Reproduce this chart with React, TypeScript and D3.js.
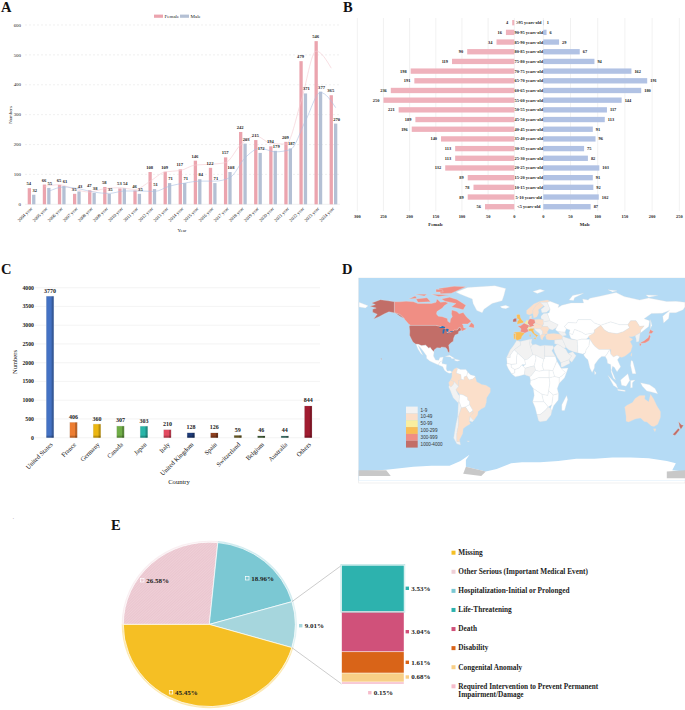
import * as d3 from "d3";

const serif = "'Liberation Serif', serif";
const sans = "'Liberation Sans', sans-serif";

// Panel A
const years = d3.range(2004, 2025).map((y) => `${y} year`);
const femaleByYear = [54, 66, 65, 35, 47, 58, 53, 46, 108, 109, 117, 146, 122, 157, 242, 215, 194, 209, 479, 546, 365];
const maleByYear = [32, 55, 61, 43, 38, 35, 54, 35, 51, 71, 71, 84, 71, 108, 203, 172, 179, 187, 371, 377, 270];
const femaleTrend = [60, 65.5, 50, 41, 52.5, 55.5, 49.5, 77, 108.5, 113, 131.5, 134, 139.5, 199.5, 228.5, 204.5, 201.5, 344, 512.5, 455.5];
const maleTrend = [43.5, 58, 52, 40.5, 36.5, 44.5, 44.5, 43, 61, 71, 77.5, 77.5, 89.5, 155.5, 187.5, 175.5, 183, 279, 374, 323.5];

// Panel B
const ageGroups = ["≥95 years-old", "90-95 years-old", "85-90 years-old", "80-85 years-old", "75-80 years-old", "70-75 years-old", "65-70 years-old", "60-65 years-old", "55-60 years-old", "50-55 years-old", "45-50 years-old", "40-45 years-old", "35-40 years-old", "30-35 years-old", "25-30 years-old", "20-25 years-old", "15-20 years-old", "10-15 years-old", "5-10 years-old", "<5 years-old"];
const femaleByAge = [4, 16, 34, 90, 119, 198, 191, 236, 250, 221, 189, 196, 140, 113, 113, 132, 89, 78, 89, 56];
const maleByAge = [1, 6, 29, 67, 94, 162, 191, 180, 144, 117, 113, 91, 96, 75, 82, 103, 91, 92, 102, 87];

// Panel C
const countries = ["United States", "France", "Germany", "Canada", "Japan", "Italy", "United Kingdom", "Spain", "Switzerland", "Belgium", "Australia", "Others"];
const countryCounts = [3770, 406, 360, 307, 303, 210, 128, 126, 59, 46, 44, 844];
const countryColors = ["#4472c4", "#ed7d31", "#ebb612", "#70ad47", "#28b5a8", "#e34a60", "#1f3d7a", "#8f4120", "#7a6a2e", "#4a6b3f", "#3f7a70", "#a01c30"];

// Panel D
const mapBands = ["1-9", "10-49", "50-99", "100-299", "300-999", "1000-4000"];
const bandColors = ["#f2f2f2", "#fbdfca", "#f9ee9f", "#f9bd56", "#f08e84", "#c26e68"];

type Shape = [number, number[][]]; // band index (-1 = no data), lon/lat ring

const shapes: Shape[] = [
  // North America
  [5, [[-124.7,48.4],[-123,49],[-95.2,49],[-89.5,48],[-84.5,46.5],[-82.5,45.3],[-82.5,42.5],[-79,43],[-76.5,44],[-75,45],[-71.5,45],[-69.5,47.3],[-67.8,47],[-67,44.8],[-70,43.7],[-70.5,41.7],[-74,40.6],[-75.5,38],[-76,35.2],[-78.5,33.8],[-81,32],[-80.2,27],[-80.5,25.2],[-81.8,26],[-82.8,28.5],[-84.5,29.8],[-89,30.2],[-90,29.2],[-94,29.6],[-97.2,27.5],[-97.2,25.9],[-99.5,27.5],[-101.5,29.8],[-103,29],[-106.5,31.7],[-111,31.3],[-114.8,32.5],[-117.1,32.5],[-120.5,34.5],[-122.5,37.5],[-124.2,40.4],[-124,44]]],
  [5, [[-141,69.6],[-141,60.2],[-135,58.5],[-130,55],[-134,56.5],[-140,59.7],[-147,60.8],[-152,59],[-158,56.5],[-164,54.6],[-160,58.7],[-165,60.5],[-165,63],[-161,64],[-168,65.6],[-162,67],[-166,68.5],[-156.5,71.3],[-148,70.4]]],
  [5, [[-156,20.3],[-155,19.7],[-155.7,19]]],
  [4, [[-141,69.6],[-135,69.5],[-128,70],[-120,69.5],[-115,68],[-108,68],[-100,68],[-95,69],[-94,72],[-90,69],[-85,69.5],[-81.5,68.5],[-86,66],[-88,64],[-94,61],[-94.5,58.8],[-92.5,57],[-88,56.5],[-82.5,55],[-82,52.5],[-79.5,51.3],[-79,54.5],[-77,56.5],[-78,59],[-77.5,62.4],[-72,61],[-69.5,59],[-65,60.2],[-61,56],[-56,52.5],[-60,50.2],[-66,50.2],[-65,49],[-64.5,47],[-61,46],[-66,44],[-67,44.8],[-67.8,47],[-69.5,47.3],[-71.5,45],[-75,45],[-76.5,44],[-79,43],[-82.5,42.5],[-82.5,45.3],[-84.5,46.5],[-89.5,48],[-95.2,49],[-123,49],[-125,50],[-130,54.5],[-130,55],[-135,58.5],[-141,60.2]]],
  [4, [[-80,73.5],[-72,71.5],[-62,66.5],[-65,62.5],[-72,64],[-78,65],[-73,68],[-85,70],[-89,72]]],
  [4, [[-117,72],[-105,73],[-101,69.5],[-115,69]]],
  [4, [[-90,76.5],[-78,77],[-62,82.5],[-75,83],[-92,81]]],
  [4, [[-125,72],[-118,74.5],[-116,72.5]]],
  [4, [[-100,76],[-80,75.5],[-92,74]]],
  [4, [[-118,76],[-105,76],[-108,74.5]]],
  [4, [[-95,80.5],[-88,80],[-87,78],[-95,78]]],
  [4, [[-59,47.7],[-53,46.8],[-53,49.5],[-56,51.5]]],
  [-1, [[-73,78],[-60,82],[-30,83.5],[-18,81],[-20,75],[-22,70.5],[-33,68],[-42,63],[-44,60],[-50,62],[-54,68],[-55,72],[-68,76]]],
  [-1, [[-117.1,32.5],[-114.8,32.5],[-111,31.3],[-106.5,31.7],[-103,29],[-101.5,29.8],[-99.5,27.5],[-97.2,25.9],[-97.8,22.3],[-95.5,18.8],[-92,18.6],[-90.7,21],[-87,21.5],[-88,18.2],[-91,17],[-92.2,14.6],[-96,15.8],[-102,18],[-105.5,20.5],[-105.5,22.5],[-109.3,26.7],[-112.7,30],[-114.7,31.5],[-112,27],[-109.5,23],[-112,24.8],[-115,28.5]]],
  [-1, [[-92.2,14.6],[-91,17],[-88,18.2],[-88.5,15.8],[-83.3,15],[-83.7,11],[-82.5,9.2],[-79.5,9.5],[-77.3,8.5],[-78.3,7.5],[-80.5,7.3],[-83,8.3],[-85.7,10],[-87.5,13]]],
  [-1, [[-85,22],[-80,23],[-74.2,20.2],[-77.5,19.9],[-79,21.5]]],
  [-1, [[-74.4,19.8],[-68.4,18.6],[-71.5,17.8],[-74.4,18.4]]],
  // South America
  [1, [[-77.3,8.5],[-75,11],[-72,12.2],[-71.3,11],[-72.5,7.5],[-67.5,6.2],[-67,2],[-70,1],[-70,-4.2],[-72,-2.5],[-75,0],[-79,1.5],[-77.5,4]]],
  [-1, [[-72,12],[-68,10.7],[-62,10.7],[-60,8.5],[-61,5],[-64,4],[-64,1.5],[-67,2],[-67.5,6.2],[-72.5,7.5],[-71.3,11]]],
  [-1, [[-60,8.5],[-57,6],[-52,5],[-51.7,4],[-54.5,2.3],[-58,1.5],[-60,3],[-61,5]]],
  [1, [[-79,1.5],[-75,0],[-75.5,-2],[-78.5,-4.8],[-80.3,-3.4],[-81,-1]]],
  [0, [[-81,-4.5],[-80.3,-3.4],[-78.5,-4.8],[-75.5,-2],[-75,0],[-72,-2.5],[-70,-4.2],[-73,-7],[-70.5,-11],[-69,-12.5],[-69.5,-17.3],[-71,-18],[-76,-14],[-79,-8]]],
  [1, [[-51.7,4],[-50,0],[-44.5,-2.5],[-40,-3],[-35,-5.5],[-35,-9],[-39,-14],[-39.5,-18],[-41,-22],[-45,-23.7],[-48.5,-26],[-49,-29],[-53.4,-33.7],[-57.6,-30.2],[-53.8,-27],[-54.6,-25.5],[-55,-24],[-58,-20],[-58,-17],[-60,-16],[-60.5,-13.5],[-65,-11.5],[-69,-11],[-73,-7],[-70,-4.2],[-70,1],[-67,2],[-64,1.5],[-64,4],[-61,5],[-60,3],[-58,1.5],[-54.5,2.3]]],
  [-1, [[-69,-11],[-65,-11.5],[-60.5,-13.5],[-60,-16],[-58,-17],[-58,-20],[-62.5,-22],[-67,-22.8],[-69.5,-17.3],[-69,-12.5]]],
  [-1, [[-58,-20],[-55,-24],[-54.6,-25.5],[-58,-27.3],[-62.5,-22]]],
  [0, [[-57.6,-30.2],[-53.4,-33.7],[-55,-35],[-58.3,-34]]],
  [0, [[-69.5,-17.3],[-67,-22.8],[-70,-30],[-70,-37],[-72,-45],[-72,-52],[-68.5,-52.3],[-68,-55],[-72,-54],[-75.5,-49],[-73,-37],[-71,-30],[-70.3,-18]]],
  [1, [[-67,-22.8],[-62.5,-22],[-58,-27.3],[-54.6,-25.5],[-53.8,-27],[-57.6,-30.2],[-58.3,-34],[-57,-36.5],[-62,-39],[-65,-41],[-65.5,-45],[-69,-50.5],[-68.5,-52.3],[-72,-52],[-72,-45],[-70,-37],[-70,-30]]],
  [0, [[-61,-51.5],[-58,-51.5],[-59,-52.3]]],
  // Africa
  [0, [[-17,21],[-13,27.7],[-9.7,31],[-5.9,35.8],[-2,35],[-1.2,32],[-8.7,27.7],[-13,23],[-13,21]]],
  [0, [[-2,35],[9,37],[8.5,33],[9.5,30],[12,23.5],[6,19.5],[3,19],[-8.7,27.7],[-1.2,32]]],
  [0, [[9,37],[11,37],[10.2,34],[11.5,32],[9.5,30],[8.5,33]]],
  [0, [[11.5,32],[15,32.5],[20,31],[25,31.6],[25,20],[24,19.5],[15,23],[12,23.5],[9.5,30]]],
  [0, [[25,31.6],[32,31.2],[34.3,31.2],[34.9,29.5],[33,27],[36.9,22],[25,22]]],
  [-1, [[-17,21],[-13,21],[-13,23],[-8.7,27.7],[-5,25],[-6,21],[-6,15.5],[-12,15],[-16.5,16]]],
  [-1, [[-5,25],[3,19],[4,15],[0,14.8],[-3,12],[-8,10.5],[-12,12.5],[-12,15],[-6,15.5],[-6,21]]],
  [-1, [[3,19],[6,19.5],[12,23.5],[15,23],[15.5,20],[13.5,13.7],[9,13],[3.5,11.7],[1,13.5],[4,15]]],
  [-1, [[15,23],[24,19.5],[22.5,14],[24,10],[19,9],[15,10],[13.5,13.7],[15.5,20]]],
  [-1, [[24,19.5],[25,20],[25,22],[36.9,22],[38.5,18],[36.5,14],[34,9.5],[30,10],[24,10],[22.5,14]]],
  [-1, [[-16.5,16],[-12,15],[-12,12.5],[-8,10.5],[-8,7.5],[-11.5,7],[-15,11],[-17,14.5]]],
  [-1, [[-8,10.5],[-3,12],[0,14.8],[1,13.5],[3.5,11.7],[2.7,6.3],[-3,5],[-7.5,4.4],[-11.5,7],[-8,7.5]]],
  [0, [[2.7,6.3],[3.5,11.7],[9,13],[13.5,13.7],[15,10],[10,5],[8.5,4.5],[5,5.5]]],
  [-1, [[8.5,4.5],[10,5],[15,10],[19,9],[24,10],[30,10],[30,3.5],[18,3.5],[14,2],[9.5,1]]],
  [-1, [[9.5,1],[14,2],[18,3.5],[30,3.5],[30.8,-1],[29.5,-8],[28.5,-12],[22,-11],[12.5,-6],[9,-2]]],
  [-1, [[36.5,14],[38.5,18],[43,12],[48,8],[44,5],[41,3.5],[36,4.5],[34,9.5]]],
  [-1, [[43,11.5],[51,12],[47,3.5],[41,-1.5],[41,3.5],[44,5],[48,8]]],
  [-1, [[30,3.5],[36,4.5],[41,3.5],[41,-1.5],[39,-6],[40.4,-10.5],[34.5,-11.5],[29.5,-8],[30.8,-1]]],
  [-1, [[30,10],[34,9.5],[36,4.5],[30,3.5]]],
  [-1, [[12.5,-6],[22,-11],[24,-17.5],[11.8,-17.5],[13.5,-12]]],
  [-1, [[22,-11],[28.5,-12],[29.5,-8],[34.5,-11.5],[33,-20],[29,-22],[25,-18],[24,-17.5]]],
  [-1, [[34.5,-11.5],[40.4,-10.5],[40,-16],[35,-21],[32.8,-26],[31.5,-23],[33,-20]]],
  [-1, [[11.8,-17.5],[24,-17.5],[25,-18],[29,-22],[25,-25.5],[20,-28.5],[16.5,-28.5],[14.5,-22.5]]],
  [0, [[16.5,-28.5],[20,-28.5],[25,-25.5],[29,-22],[31.5,-23],[32.8,-26],[32,-29],[27,-34],[20,-34.8],[18.3,-34]]],
  [-1, [[49.3,-12],[50.5,-15.5],[47,-25],[44,-25],[44,-20],[47,-15.5]]],
  // Europe
  [3, [[-9.3,43],[-1.8,43.4],[3.2,42.3],[0,39.5],[-0.7,37.7],[-2,36.7],[-5.5,36],[-7.3,37.2],[-7,41.8]]],
  [3, [[-9.3,42],[-7,41.8],[-7.3,37.2],[-9,37]]],
  [4, [[-1.8,43.4],[-1,46],[-4.7,48.4],[-1.5,48.7],[2.5,51],[8,49],[7.5,47.5],[6,46],[7.5,43.8],[3.2,42.3]]],
  [4, [[6,51],[7,53.5],[9,54.8],[14,54],[15,51],[12.5,50],[13.7,48.6],[10,47.5],[7.5,47.5],[8,49]]],
  [2, [[2.5,51],[4,52],[5,53.4],[7,53.5],[6,51],[8,49]]],
  [2, [[6,46],[7.5,47.5],[10,47.5],[10.3,46.5],[8,45.9]]],
  [3, [[7.5,43.8],[6.9,45.5],[8,45.9],[10.3,46.5],[13.7,46.5],[12.5,44.5],[14,42],[18.4,40],[16.5,39.5],[16,38],[15,40],[12,42],[10,44]]],
  [3, [[12.5,38],[15.5,38.2],[15,36.7]]],
  [3, [[8.3,41],[9.7,41],[9.5,39],[8.5,39]]],
  [3, [[-5.5,50],[1.4,51.2],[1.7,52.7],[0,53.5],[-2,56],[-2,57.6],[-3.2,58.6],[-6,58.3],[-5.5,55],[-3.2,54],[-5,52.5]]],
  [5, [[-10,52],[-6.2,52.2],[-6,55.2],[-8.5,55],[-10,53.8]]],
  [-1, [[-24,65.5],[-18,66.5],[-13.7,65],[-18,63.4],[-22.5,64]]],
  [1, [[5,59],[5,62],[13,67.5],[20,70],[28,71],[31,70],[28,69],[20,69],[15,66],[12,62],[12,59.5],[8,58]]],
  [1, [[12,59.5],[12,62],[15,66],[20,69],[24,66],[18,62.5],[18.5,60],[16.5,56.5],[13,55.4]]],
  [0, [[20,69],[28,69],[31,63],[27,60.4],[22,60],[21,63],[25,65.5],[24,66]]],
  [1, [[8.2,55],[8.5,57],[10.7,57.5],[10.5,55]]],
  [1, [[14,54],[19,54.4],[23.5,54],[24,50.5],[22.5,49],[19,49.5],[15,51]]],
  [0, [[21,55],[21,57],[24,59.4],[28,59.5],[31,53],[23.5,52],[23.5,54]]],
  [0, [[24,50.5],[23.5,52],[31,53],[40,49.5],[38,47],[33.5,45],[30,46],[28,48],[22.5,48]]],
  [1, [[12.5,50],[15,51],[19,49.5],[22.5,49],[22.5,48],[20,46],[16.5,46],[13.7,46.5],[10.3,46.5],[10,47.5],[13.7,48.6]]],
  [1, [[22.5,48],[28,48],[30,46],[28,43.5],[28,41.5],[22.5,41.3],[22.5,44],[20,46]]],
  [0, [[13.7,46.5],[16.5,46],[20,46],[22.5,44],[22.5,41.3],[20,40],[19.3,42],[15,44.5]]],
  [1, [[20,40],[22.5,41.3],[26,41],[23,38],[23,36.5],[21,37]]],
  [1, [[26,40],[28,41.5],[35,42],[42,41.2],[44.7,39.7],[44.5,37],[36,36.3],[30,36.3],[27,37]]],
  // Asia
  [-1, [[28,69],[31,70],[41,67],[40,64.5],[44,66.5],[54,68.5],[68,68.5],[67,72],[73,71],[75,72.5],[87,74.5],[104,77.5],[113,74],[130,71],[140,72.8],[160,69.7],[170,70],[180,69],[180,65],[178,62.5],[170,60],[163,60],[162,55],[156.5,51],[155.5,57],[163,62],[155,59.5],[143,59.3],[135,54.7],[141,53],[140,48],[132,43],[130.7,42.5],[131,45],[135,48.5],[130,48],[126,53],[120,53],[117,49.6],[108,49.5],[98,52],[87,49],[80,51],[76,54],[62,54],[60,51],[51,51.5],[47,48],[49,46],[47.5,43],[40,43.5],[37,45],[38,47],[40,49.5],[31,53],[28,59.5],[30,60],[31,63]]],
  [-1, [[-180,69],[-170,66],[-173,64],[-180,65]]],
  [-1, [[47,48],[51,51.5],[60,51],[62,54],[76,54],[80,51],[87,49],[80,45],[80,42.5],[70,41],[66,43],[58,45.5],[56,41],[52,42],[53,45],[49,46]]],
  [-1, [[52,42],[56,41],[58,45.5],[66,43],[70,41],[80,42.5],[74,39],[71,37],[66,37],[61,36],[54,37.5]]],
  [-1, [[87,49],[98,52],[108,49.5],[117,49.6],[119,47],[112,43.5],[105,41.7],[96,42.7],[91,45]]],
  [1, [[73.5,39.5],[80,42.5],[80,45],[87,49],[91,45],[96,42.7],[105,41.7],[112,43.5],[119,47],[117,49.6],[120,53],[126,53],[130,48],[135,48.5],[131,45],[130.7,42.5],[125,40],[121.5,39],[118,39],[122.5,37],[119.5,35],[122,31],[120,26],[114,22.3],[110,21],[108,21.6],[105,23],[101,21.5],[98,24],[98,28],[92,28],[85,28],[81,30.3],[78.5,32.5],[75,37]]],
  [0, [[125,40],[130.7,42.5],[129.5,37],[129,35],[126.5,34.5],[126,37.5]]],
  [4, [[131,34],[135,35.7],[137,37],[139.5,38.5],[140.5,41],[142,39.5],[140.8,36],[139,35],[136,33.7],[132,33.5]]],
  [4, [[140,42],[141.8,45.4],[145.3,43.5],[143,42]]],
  [4, [[130,33.5],[132,33],[131,31],[130,31.5]]],
  [1, [[120,23],[121.5,25.2],[121,22]]],
  [0, [[44.5,37],[44.7,39.7],[48,38.5],[54,37],[61,36],[61.5,31],[61.7,25.2],[57,26],[52,27.5],[48.5,30]]],
  [0, [[40,43.5],[47.5,43],[49,40.5],[44.7,39.7],[42,41.2]]],
  [0, [[36,36.3],[44.5,37],[48.5,30],[46.5,29],[42,31.5],[39,32.5],[36,33]]],
  [0, [[34.9,29.5],[39,32.5],[42,31.5],[46.5,29],[48.5,28],[51,24.5],[55,22.5],[52,19],[43,16.5],[39,21],[36,26]]],
  [0, [[51,24.5],[56,26],[59.8,22.5],[55,17],[52,19],[55,22.5]]],
  [0, [[43,16.5],[52,19],[53,16],[45,12.8],[43.2,12.8]]],
  [-1, [[61,36],[66,37],[71,37],[75,37],[74,31],[71,28],[70,25],[67,24],[61.7,25.2],[61.5,31]]],
  [-1, [[68,23.5],[70,25],[71,28],[74,31],[75,37],[78.5,32.5],[81,30.3],[85,28],[92,28],[97,28],[94,24],[92,22],[88,22],[85,20],[80.3,15],[80,12],[77.5,8],[75,12],[72.8,19],[70,21]]],
  [-1, [[92,22],[94,24],[97,28],[98,24],[101,21.5],[105,23],[108,21.6],[105.5,19],[109,13],[105,8.7],[102,12.5],[100,13.5],[99,10],[103.5,1.5],[101,3],[98.5,8.5],[98,15],[94.5,16],[94,19]]],
  [-1, [[95,5.5],[104,-2],[106,-6],[101,-3]]],
  [-1, [[105.5,-6.5],[114,-7.5],[114,-8.5],[106,-7.6]]],
  [-1, [[109,1.5],[117,7],[119,1],[115,-4],[110,-3]]],
  [-1, [[120,1],[125,1.5],[122,-1],[122,-5],[120,-5.5]]],
  [-1, [[131,-1],[141,-2.7],[147,-6],[150,-10.5],[143,-9],[138,-8],[133,-4]]],
  [-1, [[120.5,18.5],[122.3,18],[124,13],[126,7],[122,7],[120,14]]],
  [-1, [[80,9.5],[82,7.5],[80.5,6]]],
  [-1, [[142,54],[143.5,49],[142,46],[142,50]]],
  [-1, [[12,78.5],[20,80.3],[25,79],[17,76.7]]],
  [-1, [[52,71],[56,75],[68,77],[58,73],[57,70.7]]],
  [-1, [[95,80],[105,79],[100,78]]],
  [-1, [[137,75.5],[150,75],[140,73.5]]],
  // Oceania
  [1, [[113.5,-22],[116,-20.5],[122,-18],[125,-14.5],[130,-12],[136,-12],[135.5,-15],[140,-17.5],[142,-11],[145.5,-15],[149,-21],[153,-26],[153,-31],[150,-37],[146,-39],[143,-38.5],[138,-35],[135,-34.7],[131,-31.5],[125,-32.5],[118,-35],[115,-34.3],[115,-30]]],
  [1, [[145,-41],[148,-41],[147,-43.5]]],
  [5, [[173,-34.5],[176,-37.5],[178.5,-37.8],[175.5,-41.5],[174,-39]]],
  [5, [[172.7,-40.5],[174.3,-41.7],[171,-45],[169,-46.7],[166.5,-46],[171,-42]]],
];
const antarctica = [[-180,-90],[-180,-78],[-150,-76.5],[-120,-74],[-100,-73],[-80,-73],[-68,-69],[-58,-63.5],[-62,-68],[-62,-74],[-40,-78],[-28,-76],[-12,-71],[0,-70],[20,-70],[40,-69],[60,-67],[80,-67],[100,-66],[120,-66],[140,-66.5],[160,-69],[170,-71],[166,-77],[180,-78],[180,-90]];
const iceShelves = [
  [[-182,-77],[-150,-77],[-145,-82],[-182,-82]],
  [[-62,-74],[-40,-78],[-45,-82],[-65,-80]],
  [[160,-78],[182,-77],[182,-84],[160,-84]],
];
const greatLakes = [
  [[-92,46.8],[-88,48.5],[-85,47.5],[-85,46.7],[-88,46.8]],
  [[-87.8,42],[-86.3,42],[-85.2,45.8],[-87.5,45.5]],
  [[-84,46],[-81,45.8],[-81.7,43.3],[-83.5,43.8]],
  [[-83.3,41.7],[-79,42.8],[-79.5,43],[-83,42.2]],
  [[-79.7,43.3],[-76.3,43.5],[-76.5,44],[-79,43.9]],
];

// Panel E
const pieLabels = ["Other Serious (Important Medical Event)", "Hospitalization-Initial or Prolonged", "Life-Threatening and below", "Missing"];
const pieValues = [26.58, 18.96, 9.01, 45.45];
const pieColors = ["#efcfd7", "#7bc8d3", "#a6d6dd", "#f5bf24"];
const stackValues = [3.53, 3.04, 1.61, 0.68, 0.15];
const stackColors = ["#2db2ae", "#d0517a", "#d96418", "#f8cf86", "#f6bccb"];
const legendLabels = ["Missing", "Other Serious (Important Medical Event)", "Hospitalization-Initial or Prolonged", "Life-Threatening", "Death", "Disability", "Congenital Anomaly", "Required Intervention to Prevent Permanent"];
const legendColors = ["#f5bf24", "#efcfd7", "#7bc8d3", "#2db2ae", "#d0517a", "#d96418", "#f8cf86", "#f6bccb"];

function PanelA() {
  const x = d3.scaleBand<string>().domain(years).range([24, 341]);
  const inner = d3.scaleBand<string>().domain(["f", "m"]).range([0, x.bandwidth()]).paddingInner(0.25).paddingOuter(0.84);
  const y = d3.scaleLinear().domain([0, 600]).range([204.3, 25]);
  const line = d3.line<number>().y((d) => y(d)).curve(d3.curveMonotoneX);
  const fLine = line.x((_, i) => x(years[i + 1])! + inner("f")! + inner.bandwidth() / 2)(femaleTrend)!;
  const mLine = line.x((_, i) => x(years[i + 1])! + inner("m")! + inner.bandwidth() / 2)(maleTrend)!;
  return (
    <g fontFamily={serif} fill="#222">
      {y.ticks(6).map((t) => (
        <g key={t}>
          <line x1={25} x2={340} y1={y(t)} y2={y(t)} stroke="#e6e6e6" strokeWidth={0.6} strokeDasharray={t === 0 ? undefined : "2 2"} />
          <text x={21} y={y(t) + 1.7} textAnchor="end" fontSize={4.9}>{t}</text>
        </g>
      ))}
      {years.map((yr, i) => (
        <g key={yr}>
          <rect x={x(yr)! + inner("f")!} y={y(femaleByYear[i])} width={inner.bandwidth()} height={y(0) - y(femaleByYear[i])} fill="#eba4ae" />
          <rect x={x(yr)! + inner("m")!} y={y(maleByYear[i])} width={inner.bandwidth()} height={y(0) - y(maleByYear[i])} fill="#b4c0d4" />
          <text transform={`translate(${x(yr)! + x.bandwidth() / 2 + 1},${209}) rotate(-45)`} textAnchor="end" fontSize={4.7}>{yr}</text>
        </g>
      ))}
      <path d={fLine} fill="none" stroke="#f3c9d0" strokeWidth={0.6} />
      <path d={mLine} fill="none" stroke="#a9bde0" strokeWidth={0.6} />
      {years.map((yr, i) => (
        <g key={yr} fontSize={4.6} textAnchor="middle" fontWeight="bold">
          <text x={x(yr)! + inner("f")! + inner.bandwidth() / 2 - 0.5} y={y(femaleByYear[i]) - 3}>{femaleByYear[i]}</text>
          <text x={x(yr)! + inner("m")! + inner.bandwidth() / 2 + 1} y={y(maleByYear[i]) - 3}>{maleByYear[i]}</text>
        </g>
      ))}
      <rect x={154} y={14.6} width={9} height={3.2} fill="#eba4ae" />
      <text x={164.5} y={18} fontSize={5}>Female</text>
      <rect x={180} y={14.6} width={9} height={3.2} fill="#b4c0d4" />
      <text x={190.5} y={18} fontSize={5}>Male</text>
      <text transform="translate(11.5,115) rotate(-90)" textAnchor="middle" fontSize={4.8}>Numbers</text>
      <text x={182} y={232} textAnchor="middle" fontSize={4.8}>Year</text>
    </g>
  );
}

function PanelB() {
  const xF = d3.scaleLinear().domain([0, 300]).range([514.3, 357.3]);
  const xM = d3.scaleLinear().domain([0, 250]).range([543.3, 679.3]);
  const y = d3.scaleBand<string>().domain(ageGroups).range([17.6, 211.8]).paddingInner(0.45).paddingOuter(0.25);
  return (
    <g fontFamily={serif} fill="#222">
      {xF.ticks(6).map((t) => (
        <g key={t}>
          <line x1={xF(t)} x2={xF(t)} y1={18} y2={211} stroke="#e8e8e8" strokeWidth={0.6} />
          <text x={xF(t)} y={217.5} textAnchor="middle" fontSize={4.4} fontWeight="bold">{t}</text>
        </g>
      ))}
      {xM.ticks(5).map((t) => (
        <g key={t}>
          <line x1={xM(t)} x2={xM(t)} y1={18} y2={211} stroke="#e8e8e8" strokeWidth={0.6} />
          <text x={xM(t)} y={217.5} textAnchor="middle" fontSize={4.4} fontWeight="bold">{t}</text>
        </g>
      ))}
      {ageGroups.map((g, i) => {
        const cy = y(g)! + y.bandwidth() / 2;
        return (
          <g key={g} fontSize={4.4} fontWeight="bold">
            <rect x={xF(femaleByAge[i])} y={y(g)} width={xF(0) - xF(femaleByAge[i])} height={y.bandwidth()} fill="#efb2bc" />
            <rect x={xM(0)} y={y(g)} width={xM(maleByAge[i]) - xM(0)} height={y.bandwidth()} fill="#b1c2e4" />
            <text x={528.8} y={cy + 1.5} textAnchor="middle">{g}</text>
            <text x={xF(femaleByAge[i]) - 4} y={cy + 1.5} textAnchor="end">{femaleByAge[i]}</text>
            <text x={xM(maleByAge[i]) + 3} y={cy + 1.5}>{maleByAge[i]}</text>
          </g>
        );
      })}
      <text x={435.7} y={225.5} textAnchor="middle" fontSize={4.8} fontWeight="bold">Female</text>
      <text x={585} y={225.5} textAnchor="middle" fontSize={4.8} fontWeight="bold">Male</text>
    </g>
  );
}

function PanelC() {
  const x = d3.scaleBand<string>().domain(countries).range([38.3, 320]).paddingInner(0.69).paddingOuter(0.345);
  const y = d3.scaleLinear().domain([0, 4000]).range([437.7, 287.7]);
  return (
    <g fontFamily={serif} fill="#222">
      {y.ticks(8).map((t) => (
        <g key={t}>
          <line x1={35} x2={320} y1={y(t)} y2={y(t)} stroke="#efefef" strokeWidth={0.7} />
          <text x={34} y={y(t) + 2} textAnchor="end" fontSize={5.8} fontWeight="bold">{t}</text>
        </g>
      ))}
      {countries.map((c, i) => {
        const bx = x(c)!;
        const bw = x.bandwidth();
        const top = y(countryCounts[i]);
        const h = y(0) - top;
        const cx = bx + bw / 2;
        return (
          <g key={c}>
            <rect x={bx - 0.4} y={top - 0.4} width={bw + 0.8} height={h + 0.4} fill="#ddd" />
            <rect x={bx} y={top} width={bw} height={h} fill={countryColors[i]} />
            <rect x={bx + bw * 0.72} y={top} width={bw * 0.28} height={h} fill="#000" opacity={0.22} />
            <rect x={bx} y={y(0) - Math.min(h, 2)} width={bw} height={Math.min(h, 2)} fill="#000" opacity={0.2} />
            <text x={cx} y={top - 3.7} textAnchor="middle" fontSize={6} fontWeight="bold">{countryCounts[i]}</text>
            <text transform={`translate(${cx + 3},${445}) rotate(-45)`} textAnchor="end" fontSize={6.5} fill="#111">{c}</text>
          </g>
        );
      })}
      <text transform="translate(17,362) rotate(-90)" textAnchor="middle" fontSize={6.5} fill="#111">Numbers</text>
      <text x={179} y={484} textAnchor="middle" fontSize={6.6} fill="#111">Country</text>
    </g>
  );
}

function PanelD() {
  const lon = d3.scaleLinear().domain([0, 100]).range([522, 612.5]);
  const lat = d3.scaleLinear().domain([0, 100]).range([381.7, 266.7]);
  const project = d3.geoTransform({
    point(px, py) {
      this.stream.point(lon(px), lat(py));
    },
  });
  const path = d3.geoPath(project);
  const d = (ring: number[][]) => path({ type: "Polygon", coordinates: [[...ring, ring[0]]] } as any)!;
  const legendY = d3.scaleBand<string>().domain(mapBands).range([406.6, 447.6]);
  return (
    <g>
      <defs>
        <clipPath id="map-frame"><rect x={358.7} y={278} width={326.3} height={202.5} /></clipPath>
      </defs>
      <rect x={358.7} y={278} width={326.3} height={205} fill="none" stroke="#e6e6e6" strokeWidth={0.6} />
      <rect x={358.7} y={278} width={326.3} height={202.5} fill="#b5dbf5" />
      <g clipPath="url(#map-frame)" stroke="#e0e0e0" strokeWidth={0.3} strokeLinejoin="round">
        <path d={d(antarctica)} fill="#fff" stroke="none" />
        {iceShelves.map((r, i) => <path key={i} d={d(r)} fill="#c8c8c8" stroke="none" />)}
        {shapes.map(([band, ring], i) => (
          <path key={i} d={d(ring)} fill={band < 0 ? "#fff" : bandColors[band]} />
        ))}
        {greatLakes.map((r, i) => <path key={i} d={d(r)} fill="#1f73ba" stroke="none" />)}
      </g>
      {mapBands.map((b, i) => (
        <g key={b}>
          <rect x={406} y={legendY(b)} width={11.7} height={legendY.bandwidth()} fill={bandColors[i]} />
          <text x={420.6} y={legendY(b)! + 5} fontSize={4.6} fontFamily={sans} fill="#333">{b}</text>
        </g>
      ))}
    </g>
  );
}

function PanelE() {
  const cx = 209.3;
  const cy = 624.4;
  const r = 86;
  const squash = 0.956;
  const pie = d3.pie<number>().sort(null).startAngle(-Math.PI / 2).endAngle((3 * Math.PI) / 2);
  const arcs = pie(pieValues);
  const arc = d3.arc<d3.PieArcDatum<number>>().innerRadius(0).outerRadius(r);
  const halo = d3.arc<d3.PieArcDatum<number>>().innerRadius(r).outerRadius(r + 1.6);
  const breakout = arcs[2];
  const pt = (a: number) => [cx + r * Math.sin(a), cy - r * squash * Math.cos(a)];
  const [ux, uy] = pt(breakout.startAngle);
  const [lx, ly] = pt(breakout.endAngle);
  const stackX = 341.7;
  const stackW = 62.3;
  const stackY = d3.scaleLinear().domain([0, d3.sum(stackValues)]).range([565.3, 684]);
  const offsets = [0, ...d3.cumsum(stackValues)];
  const legendY = d3.scaleLinear().domain([0, 7]).range([552.7, 686.3]);
  const label = (x: number, y: number, fill: string, txt: string, outline = false) => (
    <g key={txt}>
      <rect x={x - 1.7} y={y - 1.7} width={3.4} height={3.4} fill={outline ? "none" : fill} stroke={outline ? "#fff" : "none"} strokeWidth={0.7} />
      <text x={x + 4} y={y + 2.3} fontSize={7} fontWeight="bold" fontFamily={serif} fill="#222">{txt}</text>
    </g>
  );
  return (
    <g>
      <defs>
        <pattern id="pink-hatch" width={2} height={2} patternUnits="userSpaceOnUse" patternTransform="rotate(45)">
          <rect width={2} height={2} fill="#efcfd7" />
          <rect width={1} height={2} fill="#eac6cf" />
        </pattern>
      </defs>
      <g transform={`translate(${cx},${cy}) scale(1,${squash})`}>
        {arcs.map((a, i) => (
          <path key={"h" + i} d={halo(a)!} fill={pieColors[i]} opacity={0.35} />
        ))}
        {arcs.map((a, i) => (
          <path key={pieLabels[i]} d={arc(a)!} fill={i === 0 ? "url(#pink-hatch)" : pieColors[i]} stroke="#fff" strokeWidth={0.7} />
        ))}
      </g>
      <line x1={ux} y1={uy} x2={stackX} y2={stackY(0)} stroke="#aaa" strokeWidth={0.6} />
      <line x1={lx} y1={ly} x2={stackX} y2={stackY(d3.sum(stackValues))} stroke="#aaa" strokeWidth={0.6} />
      {stackValues.map((v, i) => (
        <rect key={i} x={stackX} y={stackY(offsets[i])} width={stackW} height={stackY(v) - stackY(0)} fill={stackColors[i]} stroke="#fff" strokeWidth={0.4} />
      ))}
      <rect x={stackX - 0.8} y={stackY(0) - 0.8} width={stackW + 1.6} height={stackY(stackValues[0]) - stackY(0) + 1.2} fill="none" stroke="#bfe6e6" strokeWidth={0.8} />
      {label(142.3, 580.3, "#fff", "26.58%", true)}
      {label(247.3, 578.3, "#fff", "18.96%", true)}
      {label(171, 692.3, "#fff", "45.45%", true)}
      {label(300.7, 625.7, pieColors[2], "9.01%")}
      {label(407.3, 588.3, stackColors[0], "3.53%")}
      {label(407.3, 631.7, stackColors[1], "3.04%")}
      {label(407.3, 662.3, stackColors[2], "1.61%")}
      {label(407.3, 677, stackColors[3], "0.68%")}
      {label(369.8, 692.7, stackColors[4], "0.15%")}
      {legendLabels.map((l, i) => (
        <g key={l} fontFamily={serif} fontWeight="bold" fontSize={7.3} fill="#222">
          <rect x={451.5} y={legendY(i) - 2} width={4} height={4} fill={legendColors[i]} />
          <text x={458.3} y={legendY(i) + 2.3}>{l}</text>
        </g>
      ))}
      <text x={458.3} y={697.3} fontFamily={serif} fontWeight="bold" fontSize={7.3} fill="#222">Impairment/Damage</text>
    </g>
  );
}

export default function App() {
  const letters: [string, number, number][] = [["A", 1, 12], ["B", 343, 12], ["C", 1, 274], ["D", 342, 274], ["E", 111, 530]];
  return (
    <svg width={685} height={710} style={{ position: "absolute", left: 0, top: 0, display: "block", background: "#fff" }}>
      <PanelA />
      <PanelB />
      <PanelC />
      <PanelD />
      <PanelE />
      {letters.map(([t, x, y]) => (
        <text key={t} x={x} y={y} fontFamily={serif} fontWeight="bold" fontSize={14.5} fill="#111">{t}</text>
      ))}
      <text x={13} y={521} fontFamily={serif} fontSize={4} fill="#555">'</text>
    </svg>
  );
}
